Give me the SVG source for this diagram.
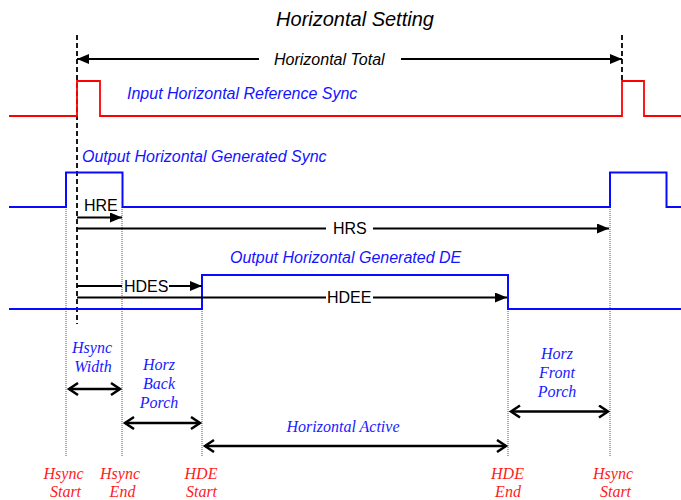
<svg xmlns="http://www.w3.org/2000/svg" width="681" height="500" viewBox="0 0 681 500">
  <style>
    .title { font-family: "Liberation Sans", Arial, sans-serif; font-style: italic; font-size: 20px; fill: #000; }
    .sub { font-family: "Liberation Sans", Arial, sans-serif; font-style: italic; font-size: 16px; fill: #000; }
    .sig { font-family: "Liberation Sans", Arial, sans-serif; font-style: italic; font-size: 16px; fill: #1414ff; }
    .reg { font-family: "Liberation Sans", Arial, sans-serif; font-size: 16px; fill: #000; }
    .blue { font-family: "Liberation Serif", "Times New Roman", serif; font-style: italic; font-size: 16px; fill: #1a1aff; text-anchor: middle; }
    .red { font-family: "Liberation Serif", "Times New Roman", serif; font-style: italic; font-size: 16px; fill: #ff1a1a; text-anchor: middle; }
    .wave-red { fill: none; stroke: #ff0000; stroke-width: 1.8; }
    .wave-blue { fill: none; stroke: #0a0aff; stroke-width: 2; }
    .dash { stroke: #000; stroke-width: 1.8; stroke-dasharray: 5 3; fill: none; }
    .dot { stroke: #555; stroke-width: 1; stroke-dasharray: 1 1; fill: none; }
    .arr { stroke: #000; stroke-width: 2; fill: none; }
    .span { stroke: #000; stroke-width: 2.5; fill: none; }
  </style>
  <defs>
    <marker id="tri" markerUnits="userSpaceOnUse" markerWidth="13" markerHeight="11" refX="12" refY="5" orient="auto-start-reverse">
      <path d="M0,0 L12,5 L0,10 z" fill="#000"/>
    </marker>
    <marker id="chev" markerUnits="userSpaceOnUse" markerWidth="14" markerHeight="16" refX="11" refY="7" orient="auto-start-reverse">
      <path d="M2,1 L11,7 L2,13" fill="none" stroke="#000" stroke-width="2.5"/>
    </marker>
  </defs>

  <rect width="681" height="500" fill="#fff"/>

  <text class="title" x="355" y="26" text-anchor="middle">Horizontal Setting</text>

  <!-- reference markers -->
  <g id="guides">
    <line class="dash" x1="77" y1="35" x2="77" y2="324"/>
    <line class="dash" x1="622" y1="35" x2="622" y2="81"/>
    <line class="dot" x1="66" y1="207" x2="66" y2="456"/>
    <line class="dot" x1="122" y1="207" x2="122" y2="456"/>
    <line class="dot" x1="202" y1="309" x2="202" y2="456"/>
    <line class="dot" x1="508" y1="309" x2="508" y2="456"/>
    <line class="dot" x1="610" y1="207" x2="610" y2="456"/>
  </g>

  <!-- waveforms -->
  <g id="input-ref-sync">
    <polyline class="wave-red" points="9,116 77,116 77,81 100,81 100,116 622,116 622,81 644,81 644,116 681,116"/>
    <text class="sig" x="127" y="99">Input Horizontal Reference Sync</text>
  </g>
  <g id="output-gen-sync">
    <polyline class="wave-blue" points="9,207 66,207 66,172.5 122.5,172.5 122.5,207 610,207 610,172.5 666.5,172.5 666.5,207 681,207"/>
    <text class="sig" x="82" y="162">Output Horizontal Generated Sync</text>
  </g>
  <g id="output-gen-de">
    <polyline class="wave-blue" points="9,309 202,309 202,275 508,275 508,309 681,309"/>
    <text class="sig" x="230" y="263">Output Horizontal Generated DE</text>
  </g>

  <!-- measurement arrows -->
  <g id="connectors">
    <line class="arr" x1="259" y1="59" x2="77" y2="59" marker-end="url(#tri)"/>
    <line class="arr" x1="401" y1="59" x2="622" y2="59" marker-end="url(#tri)"/>
    <line class="arr" x1="77" y1="217.5" x2="122" y2="217.5" marker-end="url(#tri)"/>
    <line class="arr" x1="77" y1="228.5" x2="326" y2="228.5"/>
    <line class="arr" x1="373" y1="228.5" x2="609" y2="228.5" marker-end="url(#tri)"/>
    <line class="arr" x1="77" y1="286" x2="122" y2="286"/>
    <line class="arr" x1="169" y1="286" x2="202" y2="286" marker-end="url(#tri)"/>
    <line class="arr" x1="77" y1="297.5" x2="326" y2="297.5"/>
    <line class="arr" x1="373" y1="297.5" x2="507" y2="297.5" marker-end="url(#tri)"/>

    <line class="span" x1="69" y1="389" x2="120" y2="389" marker-start="url(#chev)" marker-end="url(#chev)"/>
    <line class="span" x1="125" y1="423" x2="200" y2="423" marker-start="url(#chev)" marker-end="url(#chev)"/>
    <line class="span" x1="205" y1="446" x2="506" y2="446" marker-start="url(#chev)" marker-end="url(#chev)"/>
    <line class="span" x1="511" y1="411.5" x2="608" y2="411.5" marker-start="url(#chev)" marker-end="url(#chev)"/>
  </g>

  <g id="arrow-labels">
    <text class="sub" x="274" y="65">Horizontal Total</text>
    <text class="reg" x="84" y="211">HRE</text>
    <text class="reg" x="333" y="234">HRS</text>
    <text class="reg" x="124" y="291.5">HDES</text>
    <text class="reg" x="327" y="303">HDEE</text>
  </g>

  <!-- interval names -->
  <g id="hsync-width">
    <text class="blue" x="92" y="353">Hsync</text>
    <text class="blue" x="93" y="372">Width</text>
  </g>
  <g id="back-porch">
    <text class="blue" x="159" y="370">Horz</text>
    <text class="blue" x="159" y="389">Back</text>
    <text class="blue" x="159" y="408">Porch</text>
  </g>
  <g id="active">
    <text class="blue" x="343" y="432">Horizontal Active</text>
  </g>
  <g id="front-porch">
    <text class="blue" x="557" y="359">Horz</text>
    <text class="blue" x="557" y="378">Front</text>
    <text class="blue" x="557" y="397">Porch</text>
  </g>

  <!-- edge names -->
  <g id="edge-hsync-start">
    <text class="red" x="63.5" y="479">Hsync</text>
    <text class="red" x="65.5" y="497">Start</text>
  </g>
  <g id="edge-hsync-end">
    <text class="red" x="120" y="479">Hsync</text>
    <text class="red" x="122.5" y="497">End</text>
  </g>
  <g id="edge-hde-start">
    <text class="red" x="201" y="479">HDE</text>
    <text class="red" x="201.5" y="497">Start</text>
  </g>
  <g id="edge-hde-end">
    <text class="red" x="507.5" y="479">HDE</text>
    <text class="red" x="508" y="497">End</text>
  </g>
  <g id="edge-hsync-start-next">
    <text class="red" x="613" y="479">Hsync</text>
    <text class="red" x="615.5" y="497">Start</text>
  </g>
</svg>
